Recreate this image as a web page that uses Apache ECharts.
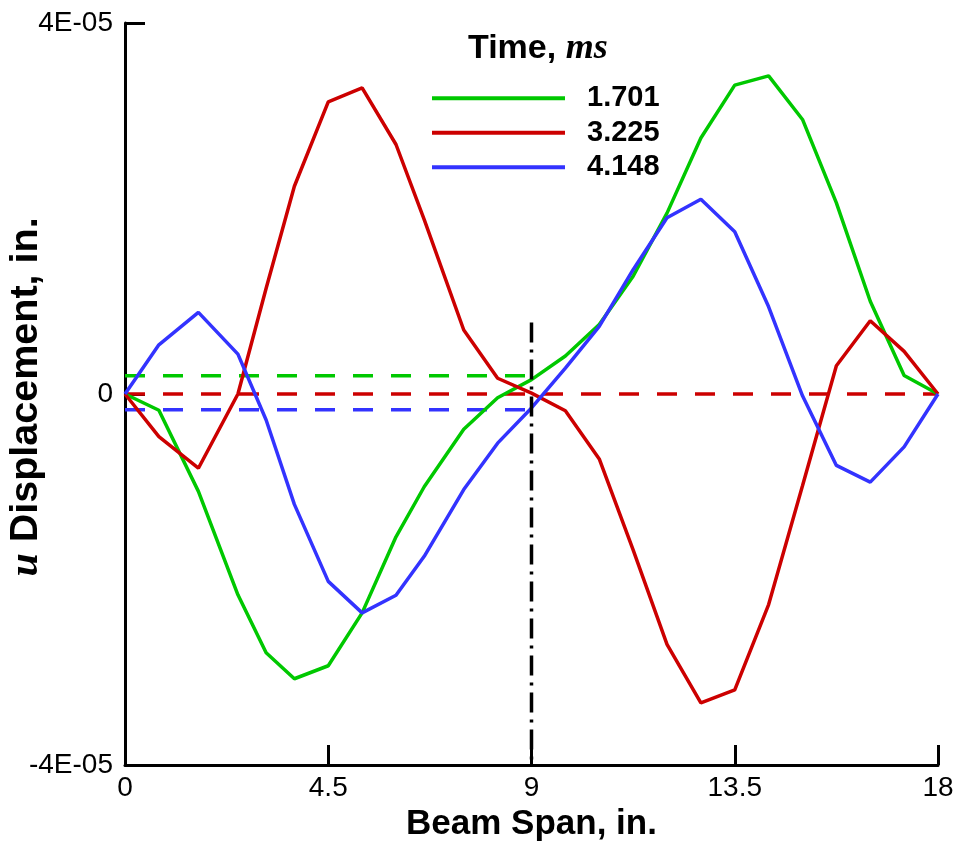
<!DOCTYPE html>
<html>
<head>
<meta charset="utf-8">
<script src="https://cdn.jsdelivr.net/npm/echarts@6/dist/echarts.min.js"></script>
<style>
  html, body { margin: 0; padding: 0; background: #fff; }
  #chart { width: 959px; height: 850px; }
</style>
</head>
<body>
<div id="chart"></div>
<script>
// Node positions along the beam (in.)
const spanIn = [0, 0.75, 1.625, 2.5, 3.125, 3.75, 4.5, 5.25, 6.0, 6.625, 7.5, 8.25, 9.0,
                9.75, 10.5, 11.25, 12.0, 12.75, 13.5, 14.25, 15.0, 15.75, 16.5, 17.25, 18.0];

// u displacement (in.) at each node for the three time steps
const disp1701 = [0, -1.75e-6, -1.05e-5, -2.165e-5, -2.79e-5, -3.07e-5, -2.93e-5, -2.36e-5, -1.54e-5,
                  -1.0e-5, -3.8e-6, -4e-7, 1.55e-6, 4.1e-6, 7.5e-6, 1.27e-5, 1.95e-5, 2.76e-5,
                  3.33e-5, 3.43e-5, 2.96e-5, 2.06e-5, 1.0e-5, 2.0e-6, 0];
const disp3225 = [0, -4.6e-6, -8.0e-6, 0, 1.14e-5, 2.24e-5, 3.15e-5, 3.30e-5, 2.69e-5,
                  1.88e-5, 6.9e-6, 1.7e-6, 1e-7, -1.8e-6, -7.0e-6, -1.68e-5, -2.70e-5, -3.33e-5,
                  -3.19e-5, -2.27e-5, -9.9e-6, 3.05e-6, 7.9e-6, 4.6e-6, 0];
const disp4148 = [0, 5.3e-6, 8.8e-6, 4.3e-6, -2.8e-6, -1.19e-5, -2.02e-5, -2.36e-5, -2.17e-5,
                  -1.75e-5, -1.03e-5, -5.3e-6, -1.5e-6, 2.8e-6, 7.3e-6, 1.34e-5, 1.90e-5, 2.10e-5,
                  1.75e-5, 9.4e-6, -2e-7, -7.7e-6, -9.5e-6, -5.7e-6, 0];

// Mean displacement levels (dashed) and their extents
const mean1701 = [[0, 1.97e-6], [9, 1.97e-6]];
const mean3225 = [[0, 0], [18, 0]];
const mean4148 = [[0, -1.7e-6], [9, -1.7e-6]];

// Mid-span reference line
const midSpan = [[9, 7.7e-6], [9, -4e-5]];

const timeLabels = ['1.701', '3.225', '4.148'];
const xTicks = [0, 4.5, 9, 13.5, 18];
const yTickLabels = { '-0.00004': '-4E-05', '0': '0', '0.00004': '4E-05' };

const GREEN = '#00c800';
const RED = '#cc0000';
const BLUE = '#3333ff';
const SANS = '"Liberation Sans", Arial, Helvetica, sans-serif';
const SERIF = '"Liberation Serif", "Times New Roman", serif';

function pairs(xs, ys) { return xs.map((x, i) => [x, ys[i]]); }

function solid(name, values, color) {
  return {
    name: name, type: 'line', data: pairs(spanIn, values),
    symbol: 'none', showSymbol: false, smooth: false,
    lineStyle: { color: color, width: 3.5 }, itemStyle: { color: color },
    z: 3
  };
}
function dashed(name, data, color) {
  return {
    name: name, type: 'line', data: data, symbol: 'none', showSymbol: false,
    lineStyle: { color: color, width: 3.5, type: [20, 18] }, itemStyle: { color: color },
    z: 2
  };
}

const chart = echarts.init(document.getElementById('chart'), null, { renderer: 'canvas' });

chart.setOption({
  animation: false,
  backgroundColor: '#ffffff',
  grid: { left: 125, right: 21, top: 23, bottom: 85, containLabel: false },
  legend: {
    data: timeLabels.map(n => ({ name: n, icon: 'rect' })),
    orient: 'vertical',
    left: 427, top: 76,
    itemWidth: 133, itemHeight: 4, itemGap: 0,
    textStyle: { fontFamily: SANS, fontWeight: 'bold', fontSize: 29, color: '#000',
                 lineHeight: 34.5, padding: [0, 0, 0, 17] },
    selectedMode: false
  },
  xAxis: {
    type: 'value', min: 0, max: 18, interval: 4.5,
    name: 'Beam Span, in.', nameLocation: 'middle', nameGap: 41,
    nameTextStyle: { fontFamily: SANS, fontWeight: 'bold', fontSize: 35, color: '#000' },
    axisLine: { show: true, onZero: false, lineStyle: { color: '#000', width: 3 } },
    axisTick: { show: true, inside: true, length: 20, lineStyle: { color: '#000', width: 3 } },
    axisLabel: { fontFamily: SANS, fontSize: 28, color: '#000', margin: 9,
                 formatter: v => (xTicks.indexOf(v) >= 0 ? String(v) : '') },
    splitLine: { show: false }
  },
  yAxis: {
    type: 'value', min: -4e-5, max: 4e-5, interval: 4e-5,
    axisLine: { show: true, onZero: false, lineStyle: { color: '#000', width: 3 } },
    axisTick: { show: true, inside: true, length: 20, lineStyle: { color: '#000', width: 3 } },
    axisLabel: { fontFamily: SANS, fontSize: 28, color: '#000', margin: 12,
                 padding: [4, 0, 0, 0],
                 formatter: v => {
                   const k = String(Math.round(v * 1e5) / 1e5);
                   return yTickLabels[k] !== undefined ? yTickLabels[k] : '';
                 } },
    splitLine: { show: false }
  },
  graphic: [
    {
      type: 'text', left: 468, top: 31,
      style: {
        text: '{a|Time, }{b|ms}',
        rich: {
          a: { fontFamily: SANS, fontWeight: 'bold', fontSize: 34, fill: '#000' },
          b: { fontFamily: SERIF, fontWeight: 'bold', fontStyle: 'italic', fontSize: 36, fill: '#000' }
        }
      }
    },
    {
      type: 'text', x: 26, y: 397, rotation: Math.PI / 2,
      style: {
        text: '{u|u}{d| Displacement, in.}',
        align: 'center', verticalAlign: 'middle',
        rich: {
          u: { fontFamily: SERIF, fontWeight: 'bold', fontStyle: 'italic', fontSize: 42, fill: '#000' },
          d: { fontFamily: SANS, fontWeight: 'bold', fontSize: 39.5, fill: '#000' }
        }
      }
    }
  ],
  series: [
    dashed('mean-1.701', mean1701, GREEN),
    dashed('mean-3.225', mean3225, RED),
    dashed('mean-4.148', mean4148, BLUE),
    {
      name: 'mid-span', type: 'line', data: midSpan, symbol: 'none', showSymbol: false,
      lineStyle: { color: '#000', width: 3.5, type: [20, 7, 3, 7] }, z: 4
    },
    solid(timeLabels[0], disp1701, GREEN),
    solid(timeLabels[1], disp3225, RED),
    solid(timeLabels[2], disp4148, BLUE)
  ]
});
</script>
</body>
</html>
